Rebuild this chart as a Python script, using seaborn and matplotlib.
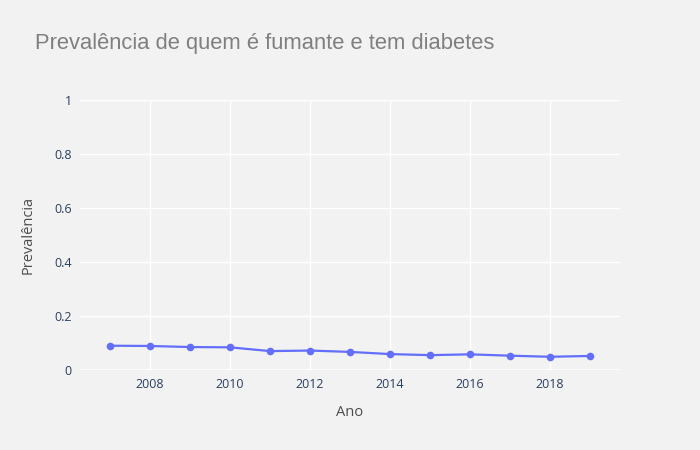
import numpy as np
import pandas as pd
import matplotlib
matplotlib.use('Agg')
import matplotlib.pyplot as plt
import seaborn as sns

# dados
anos = [2007, 2008, 2009, 2010, 2011, 2012, 2013, 2014, 2015, 2016, 2017, 2018, 2019]
prevalencia = [0.090, 0.089, 0.085, 0.084, 0.070, 0.072, 0.067, 0.059, 0.055, 0.058, 0.053, 0.049, 0.052]
xticks = [2008, 2010, 2012, 2014, 2016, 2018]
yticks = [0, 0.2, 0.4, 0.6, 0.8, 1]
ytick_labels = ['0', '0.2', '0.4', '0.6', '0.8', '1']

df = pd.DataFrame({'Ano': anos, 'Prevalência': prevalencia})

sns.set_style('darkgrid', {'axes.facecolor': '#f2f2f2', 'grid.color': 'white'})
plt.rcParams['font.family'] = ['Open Sans', 'DejaVu Sans']

fig = plt.figure(figsize=(7, 4.5), dpi=100)
fig.patch.set_facecolor('#f2f2f2')
ax = fig.add_axes([80 / 700, 80 / 450, 540 / 700, 270 / 450])

sns.lineplot(data=df, x='Ano', y='Prevalência', marker='o', color='#636efa',
             linewidth=1.6, markersize=5.5, markeredgewidth=0, ax=ax)

ax.set_xlim(2006.25, 2019.75)
ax.set_ylim(0, 1)
ax.set_xticks(xticks)
ax.set_yticks(yticks)
ax.set_yticklabels(ytick_labels)
ax.grid(True, color='white', linewidth=1)
ax.axhline(0, color='white', linewidth=2, zorder=1)
for s in ax.spines.values():
    s.set_visible(False)
ax.tick_params(axis='both', length=0, labelsize=9, labelcolor='#2a3f5f', pad=6)
ax.set_xlabel('Ano', fontsize=10.5, color='#4d4d4d', labelpad=10)
ax.set_ylabel('Prevalência', fontsize=10.5, color='#4d4d4d', labelpad=13)

fig.text(35 / 700, 1 - 43 / 450, 'Prevalência de quem é fumante e tem diabetes',
         fontsize=15.8, color='#7f7f7f', family=['Liberation Sans', 'DejaVu Sans'],
         ha='left', va='center')

fig.savefig('out.png', dpi=100, facecolor=fig.get_facecolor())
